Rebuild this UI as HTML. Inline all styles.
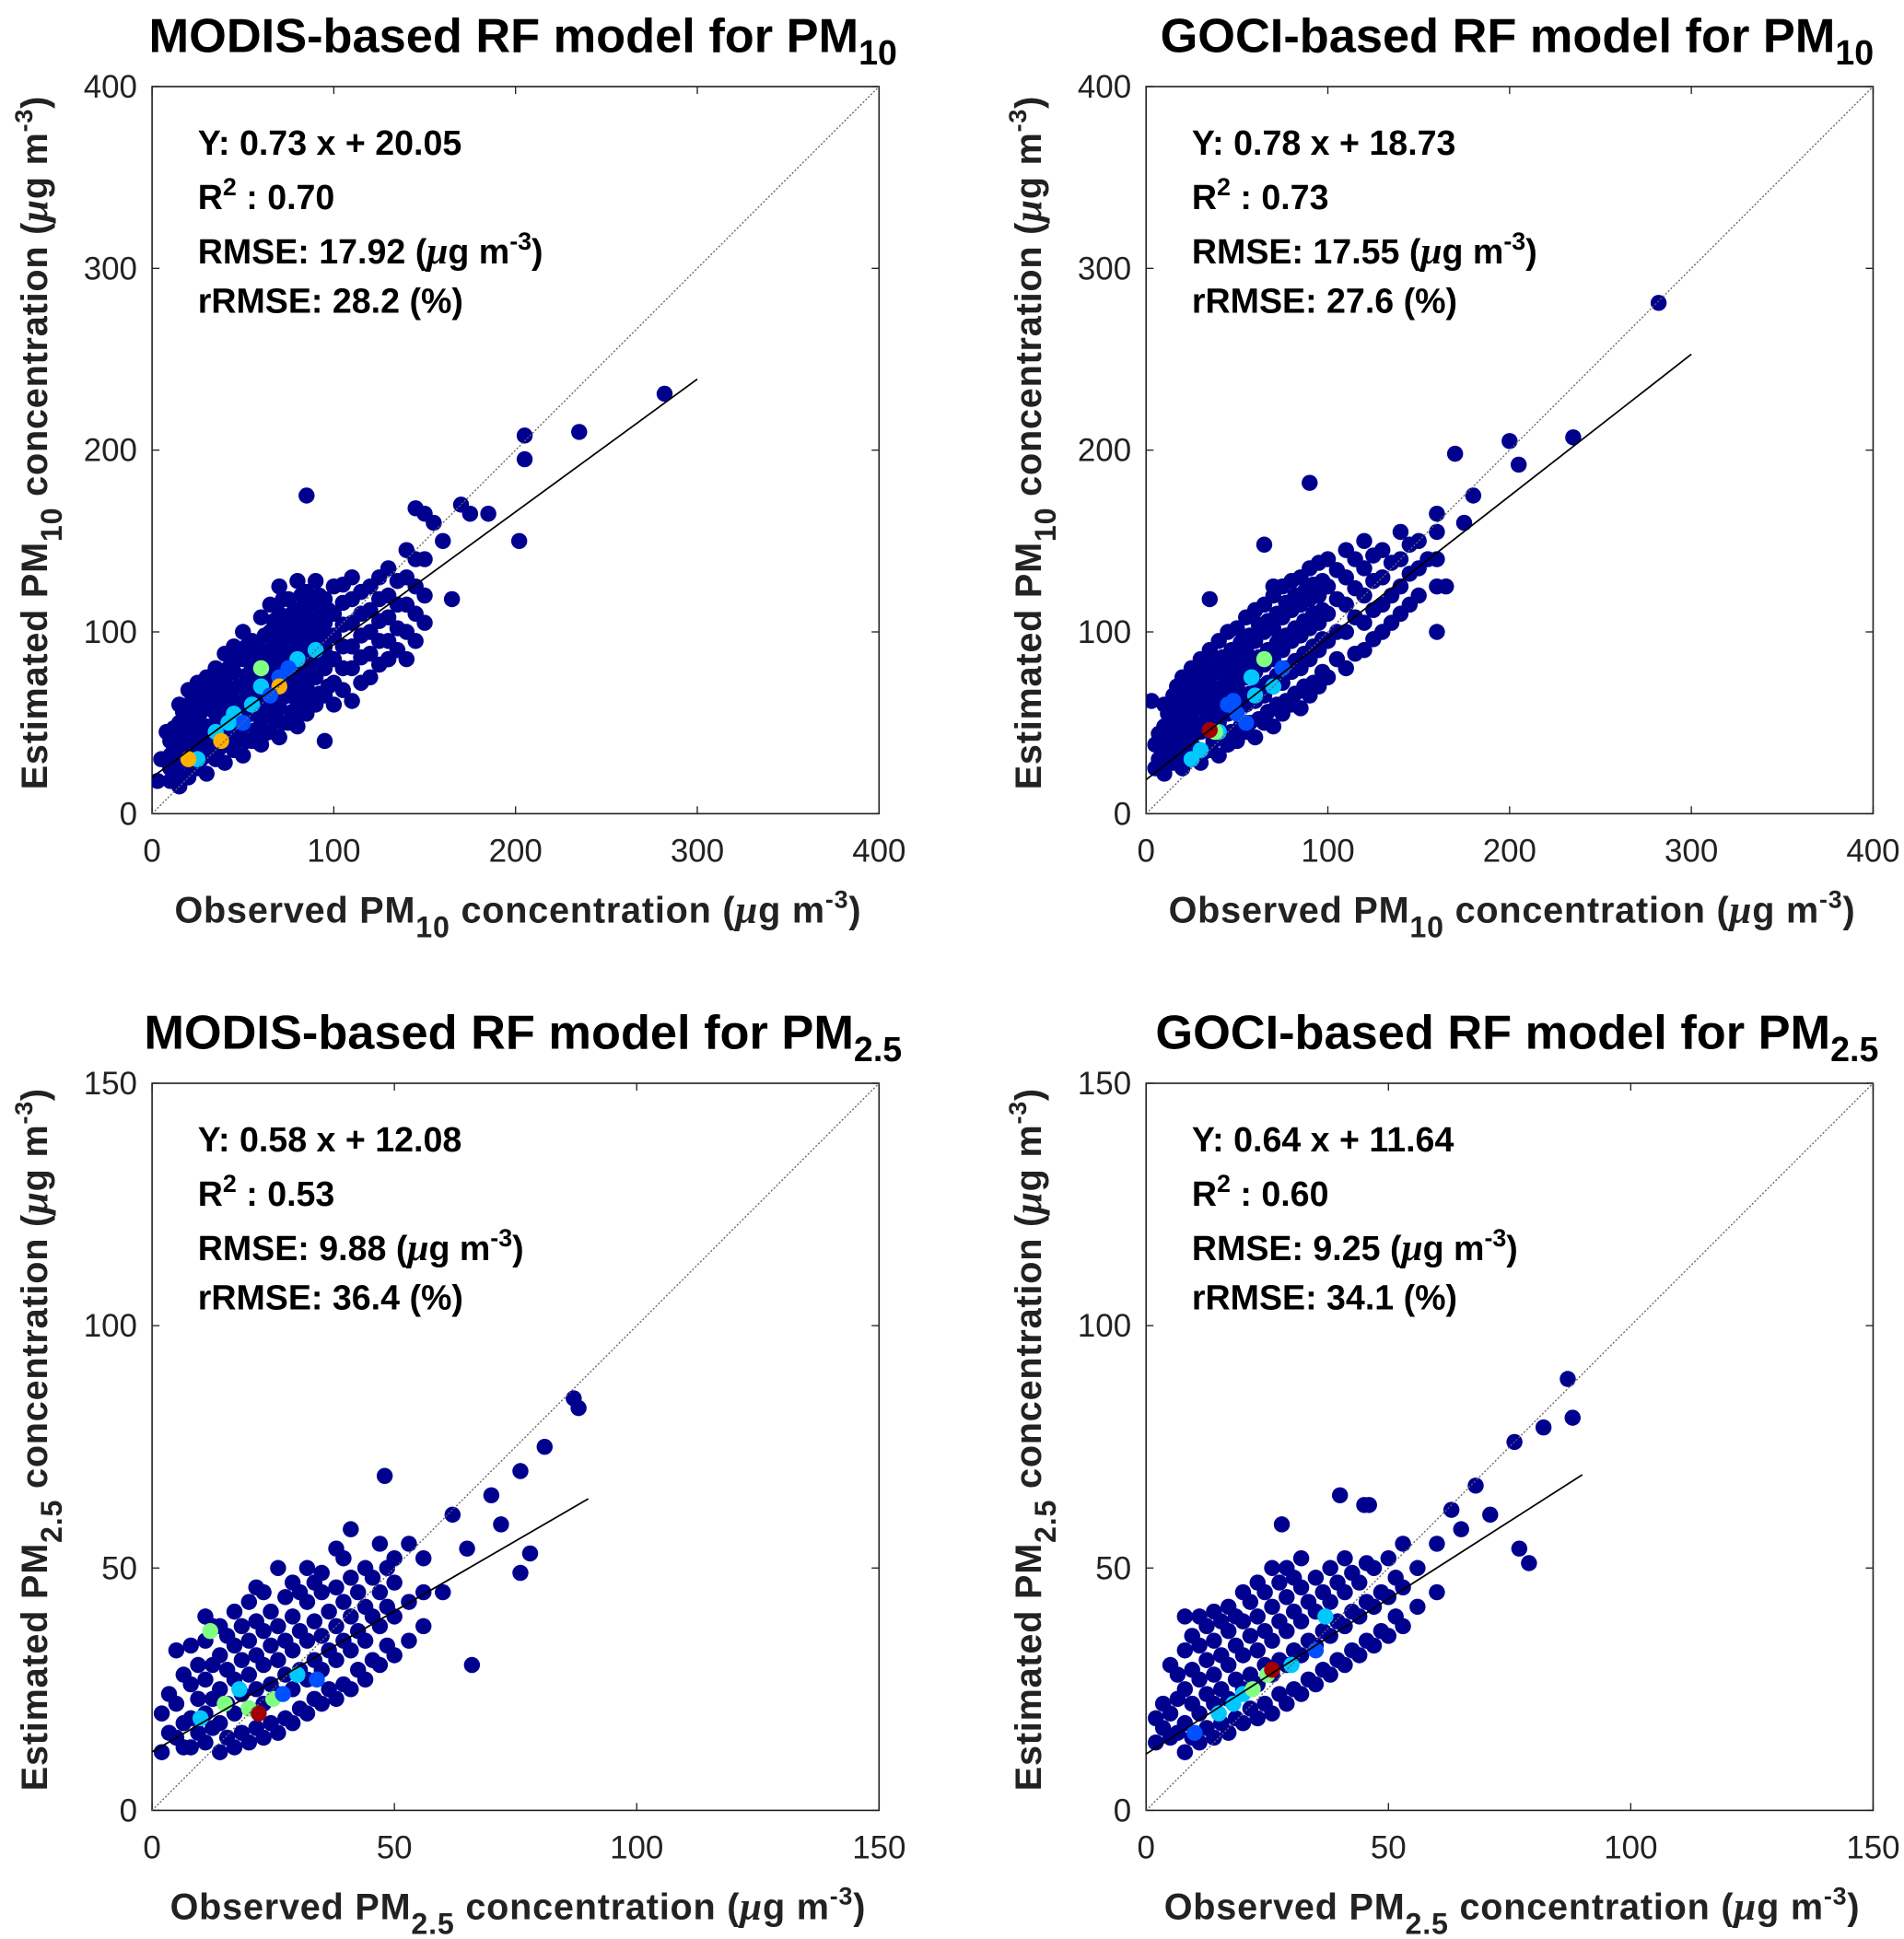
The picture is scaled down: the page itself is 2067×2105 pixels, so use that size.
<!DOCTYPE html>
<html><head><meta charset="utf-8"><style>
html,body{margin:0;padding:0;background:#fff;}
svg{display:block;font-family:"Liberation Sans",Arial,sans-serif;}
</style></head><body>
<svg id="chart" width="2067" height="2105" viewBox="0 0 1540 1568" preserveAspectRatio="none" xmlns="http://www.w3.org/2000/svg"></svg>
<script>
// ---------- DATA ----------
// Panel 1: MODIS PM10
const p1Cols=[10,15,20,25,30,35,40,45,50,55,60,65,70,75,80,85,90,95,100,110,120,130,140,150,
  12,17,22,27,32,37,42,47,52,57,62,67,72,77,82,87,92,97,105,115,125,135,145];
const p1Ys=[[18,25,32,40],[15,28,40,50,60],[20,30,45,55,68],[25,35,50,62,72],[22,38,48,58,75],[30,42,55,68,80],[28,45,60,72,88],[35,50,62,78,92],[32,48,58,70,85,100],[40,55,68,80,95],[38,52,65,78,90,108],[45,60,72,85,100,115],[42,58,70,82,95,110,125],[50,65,78,90,105,118],[48,62,75,88,100,112,128],[55,70,82,95,108,122],[60,75,88,100,115,128],[40,65,80,92,105,118],[60,72,85,98,110,125],[62,80,92,105,118,130],[75,88,100,112,125],[85,95,108,120,135],[85,100,115,130,145],[105,120,140,165],
  [22,35,47],[20,33,45,56],[26,40,50,62],[30,44,56,66],[32,45,62,70],[36,50,62,75],[38,52,66,80],[42,56,70,85],[40,54,64,76,92],[46,60,74,88],[44,58,72,84,98],[52,66,78,92,106],[50,64,76,88,102,118],[56,72,84,96,110],[55,68,80,94,106,120],[62,76,88,102,115],[66,82,94,108,120],[70,86,98,112],[68,80,92,104,116,126],[72,86,98,110,122],[82,95,106,118,130],[90,102,115,128],[95,110,125,140]];
const p1OutX=[160,170,175,185,165,85,202,205,205,235,282,5,3,8,155,145,130];
const p1OutY=[150,170,165,165,118,175,150,195,208,210,231,30,18,45,160,168,85];
const p1HotX=[45,55,60,70,80,90,35,25,38,70,20,60,50,65,42,75];
const p1HotY=[55,60,70,75,85,90,45,30,40,70,30,80,50,65,50,80];
const p1HotC=[2,2,2,1,2,2,2,2,4,4,4,3,1,1,2,1];
// Panel 2: GOCI PM10
const p2Cols=[5,10,15,20,25,30,35,40,45,50,55,60,65,70,75,80,85,90,95,100,110,120,130,140,150,160,
  7,12,17,22,27,32,37,42,47,52,57,62,67,72,77,82,87,92,97,105,115,125,135,145];
const p2Ys=[[25,38],[22,35,48,60],[28,40,52,65],[25,38,50,62,75],[30,42,55,68,80],[28,45,58,70,85],[35,48,60,75,90],[32,50,62,78,95],[38,55,68,82,100],[40,58,70,85,102],[45,60,75,90,108],[42,62,78,95,112],[50,65,82,100,115],[48,70,85,102,120],[55,72,90,108,125],[60,78,95,112,128],[58,80,98,115,130],[65,85,102,118,135],[70,90,105,120,138],[75,95,110,125,140],[80,100,115,130,145],[90,105,120,135,150],[100,115,130,145],[110,125,140,155],[120,135,150],[125,140,155,165],
  [30,44],[28,42,55],[33,46,58,70],[32,44,56,68],[36,49,62,74],[34,50,64,78],[40,54,68,82],[42,56,70,86],[45,60,75,90],[48,64,78,94],[50,66,82,98],[52,70,86,104],[56,72,90,106],[60,76,94,110],[62,80,98,116],[66,84,102,120],[70,88,106,122],[72,92,110,126],[78,96,112,128],[85,100,118,134],[88,108,124,140],[96,112,128,142],[105,120,138],[115,132,148]];
const p2OutX=[282,235,200,205,170,180,175,90,65,160,3,35,70,165,155];
const p2OutY=[281,207,205,192,198,175,160,182,148,100,62,118,125,125,140];
const p2HotX=[30,40,50,60,70,65,45,25,55,75,38,35,58,48];
const p2HotY=[35,45,55,65,70,85,60,30,50,80,45,46,75,62];
const p2HotC=[2,2,1,2,2,3,1,2,1,1,3,5,2,1];
// Panel 3: MODIS PM2.5
const p3Cols=[2,5,8,11,14,17,20,23,26,29,32,35,38,41,44,47,50,53,56,
  3.5,6.5,9.5,12.5,15.5,18.5,21.5,24.5,27.5,30.5,33.5,36.5,39.5,42.5,45.5,48.5];
const p3Ys=[[12,20],[15,22,33],[13,19,26,34],[14,20,27,35,40],[12,18,25,32,38],[13,20,27,34,41],[14,21,28,35,43],[15,22,30,37,45],[16,24,31,38,50],[18,25,33,40,47],[20,27,35,43,50],[22,29,36,45,49],[23,31,38,46,54],[25,33,40,48,58],[27,35,42,50],[30,38,45,55],[32,40,47,52],[35,43,55],[38,45,52],
  [16,24],[13,18,28],[16,23,30],[17,23,30,38],[15,22,29,36],[16,24,31,38],[17,25,32,39,46],[18,26,34,41],[19,28,35,44],[21,29,37,45],[23,31,39,47],[25,33,41],[26,35,43,52],[29,37,45],[31,40,48],[34,42,50]];
const p3OutX=[87,88,81,76,78,76,66,48,70,62,72,60,65];
const p3OutY=[85,83,75,70,53,49,30,69,65,61,59,45,54];
const p3HotX=[10,15,20,25,22,18,30,12,27,34];
const p3HotY=[19,22,21,23,20,25,28,37,24,27];
const p3HotC=[2,3,3,3,5,2,2,3,1,1];
// Panel 4: GOCI PM2.5
const p4Cols=[2,5,8,11,14,17,20,23,26,29,32,35,38,41,44,47,50,53,56,60,
  3.5,6.5,9.5,12.5,15.5,18.5,21.5,24.5,27.5,30.5,33.5,36.5,39.5,42.5,45.5,48.5,51.5];
const p4Ys=[[14,19],[15,20,30],[12,18,25,33,40],[14,20,27,34,40],[15,22,28,35,41],[16,23,30,37,42],[18,25,32,39,45],[19,26,33,40,47],[20,28,35,42,50],[22,30,37,44,50],[24,32,39,46,52],[26,34,41,48],[28,36,43,50],[30,38,45,52],[32,40,47],[34,42,50],[36,44,52],[38,46,55],[42,50],[45,55],
  [17,22],[16,23,28],[15,22,29,36],[17,24,31,38],[18,25,32,39],[19,27,34,40],[21,28,36,43],[22,30,37,45],[24,31,39,47],[25,33,41,48],[27,35,43],[29,37,45],[31,39,47],[33,41,49],[35,43,51],[37,45],[40,48]];
const p4OutX=[87,88,82,76,77,79,71,68,45,46,40,28,65,63];
const p4OutY=[89,81,79,76,54,51,61,67,63,63,65,59,58,62];
const p4HotX=[15,20,25,30,35,22,18,26,37,10];
const p4HotY=[20,24,28,30,33,25,22,29,40,16];
const p4HotC=[2,2,3,2,1,3,2,5,2,1];
const colors=["#00008f","#0050ff","#00c8ff","#80ff80","#ffb000","#a00000"];

// ---------- DRAW ----------
const svg=document.getElementById('chart');
const NS="http://www.w3.org/2000/svg";
function el(tag,attrs,parent){const e=document.createElementNS(NS,tag);for(const k in attrs)e.setAttribute(k,attrs[k]);(parent||svg).appendChild(e);return e;}

function panel(cfg){
  const g=el('g',{});
  
  
  const L=cfg.x0,R=cfg.x0+588,T=cfg.y0,B=cfg.y0+588,max=cfg.max;
  const sx=v=>L+v/max*588, sy=v=>B-v/max*588;
  const t=el('text',{x:L+300,y:T-28,'text-anchor':'middle','font-size':39,'font-weight':'bold',fill:'#000'},g);
  
  t.innerHTML=cfg.title+'<tspan font-size="28" dy="10">'+cfg.sub+'</tspan>';
  const box=el('rect',{x:L,y:T,width:588,height:588,fill:'#fff',stroke:'#222','stroke-width':1.2},g);
  
  for(const v of cfg.ticks){
    const x=sx(v),y=sy(v);
    el('line',{x1:x,y1:B,x2:x,y2:B-6,stroke:'#222'},g);
    el('line',{x1:x,y1:T,x2:x,y2:T+6,stroke:'#222'},g);
    el('line',{x1:L,y1:y,x2:L+6,y2:y,stroke:'#222'},g);
    el('line',{x1:R,y1:y,x2:R-6,y2:y,stroke:'#222'},g);
    const xt=el('text',{x:x,y:B+39,'text-anchor':'middle','font-size':26,fill:'#222'},g);
    
    xt.textContent=v;
    const yt=el('text',{x:L-12,y:y+9,'text-anchor':'end','font-size':26,fill:'#222'},g);
    
    yt.textContent=v;
  }
  const pts=[];
  cfg.cols.forEach((c,i)=>cfg.ys[i].forEach(y=>pts.push([c,y,0])));
  cfg.ox.forEach((x,i)=>pts.push([x,cfg.oy[i],0]));
  cfg.hx.forEach((x,i)=>pts.push([x,cfg.hy[i],cfg.hc[i]]));
  const clip=el('clipPath',{id:'c'+cfg.id},g);el('rect',{x:L,y:T,width:588,height:588},clip);
  const pg=el('g',{'clip-path':'url(#c'+cfg.id+')'},g);
  pts.forEach(p=>{
    const c=el('circle',{cx:sx(p[0]),cy:sy(p[1]),r:6.5,fill:colors[p[2]]},pg);
    
    
  });
  const d=el('line',{x1:sx(0),y1:sy(0),x2:sx(max),y2:sy(max),stroke:'#666','stroke-width':1,'stroke-dasharray':'1.5,1.5'},g);
  
  const f=el('line',{x1:sx(0),y1:sy(cfg.b),x2:sx(cfg.fitEnd),y2:sy(cfg.a*cfg.fitEnd+cfg.b),stroke:'#000','stroke-width':1.3},g);
  
  const ys=[55,99,143,183];
  cfg.stats.forEach((s,i)=>{
    const st=el('text',{x:L+37,y:T+ys[i],'font-size':28,'font-weight':'bold',fill:'#000'},g);
    
    st.innerHTML=s;
  });
  const lab=(w)=>w+' PM<tspan font-size="24" dy="12">'+cfg.sub+'</tspan><tspan dy="-12"> concentration (</tspan><tspan font-style="italic" font-family="Liberation Serif" font-size="32">μ</tspan>g m<tspan font-size="20" dy="-12">-3</tspan><tspan dy="12">)</tspan>';
  const xl=el('text',{x:L+296,y:B+88,'text-anchor':'middle','font-size':29.5,'font-weight':'bold',fill:'#222','letter-spacing':0.6},g);
  
  xl.innerHTML=lab('Observed');
  const yl=el('text',{x:0,y:0,'text-anchor':'middle','font-size':29.5,'font-weight':'bold',fill:'#222','letter-spacing':0.6,transform:'translate('+(L-85)+','+(T+288)+') rotate(-90)'},g);
  
  yl.innerHTML=lab('Estimated');
}
const sup=(s)=>'<tspan font-size="20" dy="-11">'+s+'</tspan><tspan dy="11">';
const mu='<tspan font-style="italic" font-family="Liberation Serif" font-size="31">μ</tspan>';
panel({id:1,name:'panel-modis-pm10',x0:123,y0:70,max:400,ticks:[0,100,200,300,400],title:'MODIS-based RF model for PM',sub:'10',
  cols:p1Cols,ys:p1Ys,ox:p1OutX,oy:p1OutY,hx:p1HotX,hy:p1HotY,hc:p1HotC,a:0.73,b:20.05,fitEnd:300,
  stats:['Y: 0.73 x + 20.05','R'+sup('2')+' : 0.70</tspan>','RMSE: 17.92  ('+mu+'g m'+sup('-3')+')</tspan>','rRMSE: 28.2 (%)']});
panel({id:2,name:'panel-goci-pm10',x0:927,y0:70,max:400,ticks:[0,100,200,300,400],title:'GOCI-based RF model for PM',sub:'10',
  cols:p2Cols,ys:p2Ys,ox:p2OutX,oy:p2OutY,hx:p2HotX,hy:p2HotY,hc:p2HotC,a:0.78,b:18.73,fitEnd:300,
  stats:['Y: 0.78 x + 18.73','R'+sup('2')+' : 0.73</tspan>','RMSE: 17.55  ('+mu+'g m'+sup('-3')+')</tspan>','rRMSE: 27.6 (%)']});
panel({id:3,name:'panel-modis-pm25',x0:123,y0:876,max:150,ticks:[0,50,100,150],title:'MODIS-based RF model for PM',sub:'2.5',
  cols:p3Cols,ys:p3Ys,ox:p3OutX,oy:p3OutY,hx:p3HotX,hy:p3HotY,hc:p3HotC,a:0.58,b:12.08,fitEnd:90,
  stats:['Y: 0.58 x + 12.08','R'+sup('2')+' : 0.53</tspan>','RMSE: 9.88 ('+mu+'g m'+sup('-3')+')</tspan>','rRMSE: 36.4 (%)']});
panel({id:4,name:'panel-goci-pm25',x0:927,y0:876,max:150,ticks:[0,50,100,150],title:'GOCI-based RF model for PM',sub:'2.5',
  cols:p4Cols,ys:p4Ys,ox:p4OutX,oy:p4OutY,hx:p4HotX,hy:p4HotY,hc:p4HotC,a:0.64,b:11.64,fitEnd:90,
  stats:['Y: 0.64 x + 11.64','R'+sup('2')+' : 0.60</tspan>','RMSE: 9.25 ('+mu+'g m'+sup('-3')+')</tspan>','rRMSE: 34.1 (%)']});
</script>
</body></html>
